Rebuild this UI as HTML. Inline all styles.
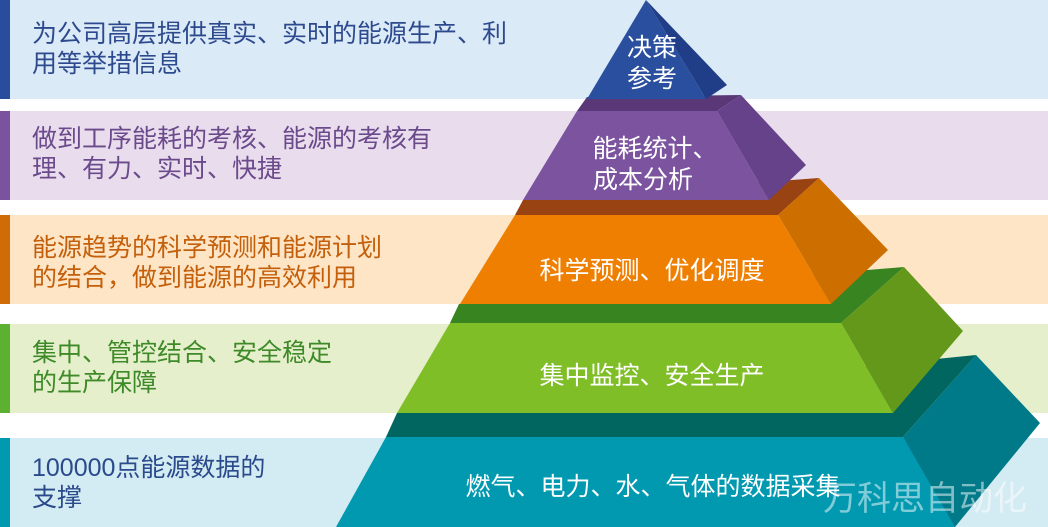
<!DOCTYPE html>
<html><head><meta charset="utf-8"><style>
html,body{margin:0;padding:0;background:#fff;}
svg{display:block;}
text{font-family:"Liberation Sans","Noto Sans CJK SC",sans-serif;}
</style></head><body>
<svg width="1048" height="527" viewBox="0 0 1048 527" xmlns="http://www.w3.org/2000/svg">
<rect x="0" y="0" width="1048" height="99" fill="#dbeaf7"/>
<rect x="0" y="111" width="1048" height="89" fill="#e8dced"/>
<rect x="0" y="215" width="1048" height="89" fill="#fde5c5"/>
<rect x="0" y="324" width="1048" height="89" fill="#e6efcc"/>
<rect x="0" y="438" width="1048" height="89" fill="#d3ebf2"/>
<rect x="0" y="0" width="10" height="99" fill="#2a4c9c"/>
<rect x="0" y="111" width="10" height="89" fill="#7a529e"/>
<rect x="0" y="215" width="10" height="89" fill="#d06c08"/>
<rect x="0" y="324" width="10" height="89" fill="#5cb230"/>
<rect x="0" y="438" width="10" height="89" fill="#0099b0"/>

<g font-size="25">
<text x="32" y="42" fill="#2e4a8e">为公司高层提供真实、实时的能源生产、利</text>
<text x="32" y="72" fill="#2e4a8e">用等举措信息</text>
<text x="32" y="147" fill="#6b4a8c">做到工序能耗的考核、能源的考核有</text>
<text x="32" y="177" fill="#6b4a8c">理、有力、实时、快捷</text>
<text x="32" y="256" fill="#c4600c">能源趋势的科学预测和能源计划</text>
<text x="32" y="286" fill="#c4600c">的结合，做到能源的高效利用</text>
<text x="32" y="361" fill="#3e8a28">集中、管控结合、安全稳定</text>
<text x="32" y="391" fill="#3e8a28">的生产保障</text>
<text x="32" y="476" fill="#2a4a8c">100000点能源数据的</text>
<text x="32" y="506" fill="#2a4a8c">支撑</text>
</g>

<polygon points="386,437 397,413 976,355 903,437" fill="#00665f"/>
<polygon points="903,437 976,355 1040,423 955,527 951,527" fill="#007a88"/>
<polygon points="386,437 903,437 955,527 336,527" fill="#0099b0"/>
<polygon points="450,323 459,304 904,267 841,323" fill="#378420"/>
<polygon points="841,323 904,267 963,331 893,413" fill="#64981a"/>
<polygon points="450,323 841,323 893,413 397,413" fill="#80be28"/>
<polygon points="515,215 523,200 819,178 778,215" fill="#994212"/>
<polygon points="778,215 819,178 888,250 831,304" fill="#cd6e00"/>
<polygon points="515,215 778,215 831,304 460,304" fill="#ef7f00"/>
<polygon points="577,111 587,97 741,95 717,111" fill="#5a3877"/>
<polygon points="717,111 741,95 806,165 769,200" fill="#65428a"/>
<polygon points="577,111 717,111 769,200 523,200" fill="#7b539e"/>
<polygon points="646,0 727,85 706,99" fill="#203e88"/>
<polygon points="646,0 706,99 587,99" fill="#2a4f9e"/>

<g fill="#fff" font-size="25" text-anchor="middle">
<text x="652" y="56">决策</text>
<text x="652" y="87">参考</text>
<text x="655" y="157">能耗统计、</text>
<text x="643" y="188">成本分析</text>
<text x="652" y="279">科学预测、优化调度</text>
<text x="652" y="384">集中监控、安全生产</text>
<text x="653" y="495">燃气、电力、水、气体的数据采集</text>
</g>
<text x="925" y="510" fill="#ffffff" fill-opacity="0.5" font-size="34" text-anchor="middle">万科思自动化</text>
</svg>
</body></html>
